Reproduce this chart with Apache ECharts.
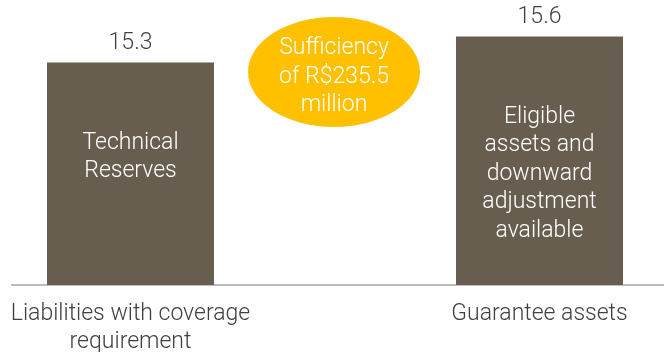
<!DOCTYPE html>
<html><head><meta charset="utf-8">
<script src="https://cdn.jsdelivr.net/npm/echarts@6/dist/echarts.min.js"></script>
<style>html,body{margin:0;padding:0;background:#fff}#c{width:664px;height:352px}</style>
</head><body><div id="c"></div>
<script>
const categories = ['Liabilities with coverage\nrequirement', 'Guarantee assets'];
const values = [15.3, 15.6];
const innerLabels = ['Technical\nReserves', 'Eligible\nassets and\ndownward\nadjustment\navailable'];
const bubbleText = 'Sufficiency\nof R$235.5\nmillion';

const FONT = 'Roboto';
const chart = echarts.init(document.getElementById('c'));
chart.setOption({
  animation: false,
  grid: { left: -74, right: -80, top: 2, bottom: 67, outerBoundsMode: 'none', containLabel: false },
  xAxis: {
    type: 'category', data: categories,
    axisLine: { show: false }, axisTick: { show: false },
    axisLabel: { color: '#404040', fontFamily: FONT, fontWeight: 300, fontSize: 23, lineHeight: 28, margin: 15, interval: 0 }
  },
  yAxis: { type: 'value', min: 12.73, max: 16.0, show: false, splitLine: { show: false } },
  series: [{
    type: 'bar', barWidth: 167,
    data: values,
    itemStyle: { color: '#675e4f' },
    label: { show: true, position: 'top', distance: 8, color: '#404040', fontFamily: FONT, fontWeight: 300, fontSize: 23,
      formatter: p => p.value.toFixed(1) },
    z: 3
  }, {
    type: 'bar', barWidth: 167, barGap: '-100%',
    data: values,
    itemStyle: { color: 'transparent' },
    label: { show: true, position: 'insideTop', distance: 66, color: '#ffffff', fontFamily: FONT, fontWeight: 300, fontSize: 23, lineHeight: 28.5,
      formatter: p => innerLabels[p.dataIndex] },
    z: 4
  }],
  graphic: [
    { type: 'line', shape: { x1: 11, y1: 285, x2: 664, y2: 285 }, style: { stroke: '#a6a6a6', lineWidth: 1.5 }, z: 1 },
    { type: 'ellipse', shape: { cx: 334, cy: 72, rx: 86, ry: 55 }, style: { fill: '#ffc000' }, z: 5 },
    { type: 'text', x: 334, y: 77, z: 6, style: { text: bubbleText, fill: '#ffffff', font: '300 23px Roboto', lineHeight: 28.5, align: 'center', verticalAlign: 'middle' } }
  ]
});
</script></body></html>
